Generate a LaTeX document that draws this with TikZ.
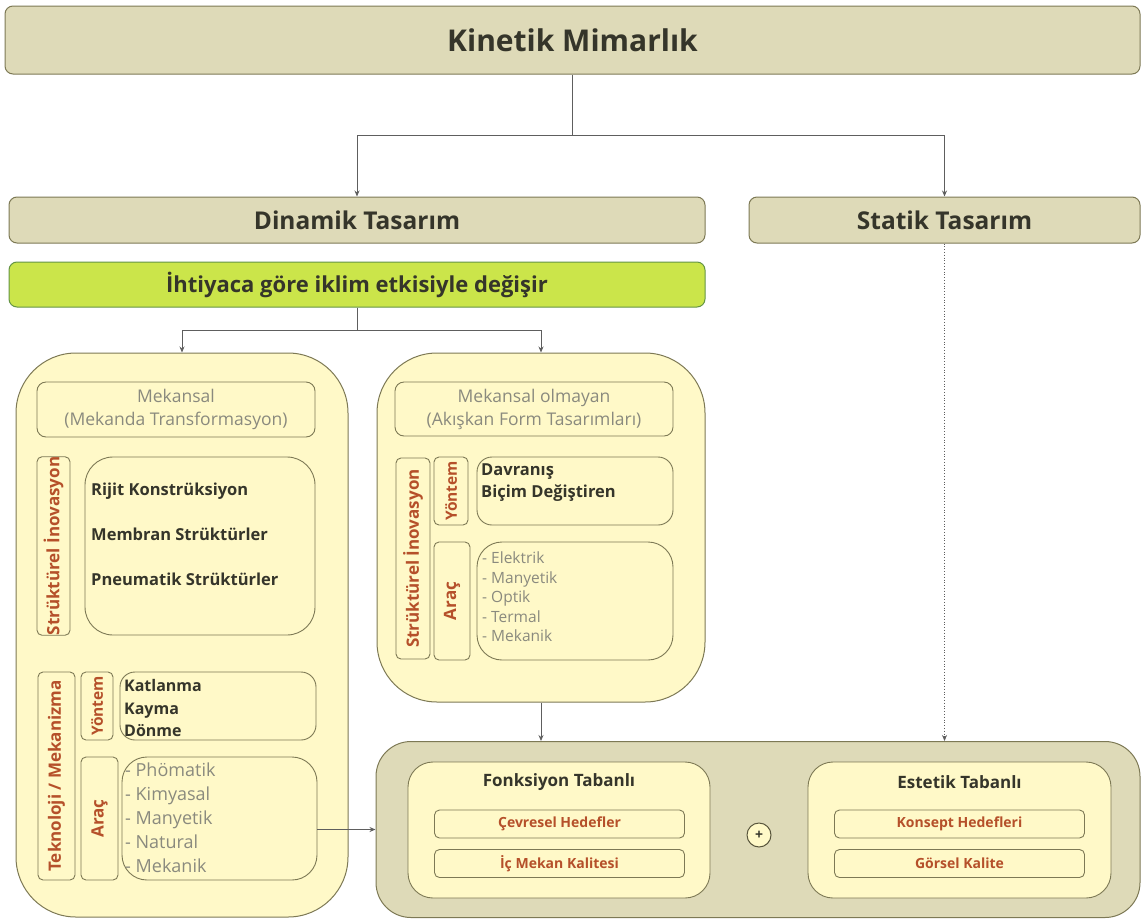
\documentclass[tikz,border=0pt]{standalone}
\usepackage{fontspec}
\setmainfont{Open Sans}
\usetikzlibrary{arrows.meta,positioning,calc}
\definecolor{khaki}{HTML}{DEDAB8}
\definecolor{cream}{HTML}{FFF9C8}
\definecolor{lime}{HTML}{CBE54A}
\definecolor{olive}{HTML}{7D7955}
\definecolor{rust}{HTML}{B5502A}
\definecolor{ink}{HTML}{35352A}
\definecolor{mute}{HTML}{8A8A7E}
\definecolor{wire}{HTML}{5E5E5E}
\newcommand{\fs}[1]{\fontsize{#1}{#1}\selectfont}

\begin{document}
\begin{tikzpicture}[x=1pt, y=-1pt,
    head/.style={rectangle, draw=olive, fill=khaki, line width=1pt, rounded corners=8pt, text=ink, font=\bfseries\fs{24.5}},
    group/.style={rectangle, draw=olive, fill=cream, line width=1pt, rounded corners=60pt},
    titlebox/.style={rectangle, draw=olive, fill=cream, line width=0.9pt, rounded corners=9pt, align=center, text=mute, font=\fs{17.5}, execute at begin node=\setlength{\baselineskip}{23pt}},
    sidebox/.style={rectangle, draw=olive, fill=cream, line width=0.9pt, rounded corners=5pt, rotate=90, inner sep=0pt, text=rust, font=\bfseries\fs{17}},
    itembox/.style={rectangle, draw=olive, fill=cream, line width=0.9pt, rounded corners=22pt},
    boldlist/.style={align=left, anchor=west, inner sep=0pt, text=ink, font=\bfseries\fs{16.5}},
    greylist/.style={align=left, anchor=west, inner sep=0pt, text=mute, font=\fs{18}},
    goalbox/.style={rectangle, draw=olive, fill=cream, line width=0.9pt, rounded corners=5pt, minimum width=250pt, minimum height=28pt, text=rust, font=\bfseries\fs{14}},
    arrow/.style={-{Stealth[length=6pt,width=5pt]}, draw=wire, line width=0.8pt}
]
\useasboundingbox (0,0) rectangle (1142,921);

% top levels
\node[head, minimum width=1135pt, minimum height=68pt, font=\bfseries\fs{30}] (kinetik) at (572.5,40) {Kinetik Mimarlık};
\node[head, minimum width=696pt, minimum height=46pt] (dinamik) at (357,220) {Dinamik Tasarım};
\node[head, minimum width=391pt, minimum height=46pt] (statik) at (944.5,220) {Statik Tasarım};
\node[head, fill=lime, draw=olive!80!green, minimum width=696pt, minimum height=45pt, font=\bfseries\fs{22}] (iklim) at (357,284.5) {İhtiyaca göre iklim etkisiyle değişir};

% mekansal
\node[group, minimum width=332pt, minimum height=564pt] (mekansal) at (182,635) {};
\node[titlebox, minimum width=278pt, minimum height=55pt] (mekhead) at (176,409.5) {Mekansal\\(Mekanda Transformasyon)};
\node[sidebox, minimum width=178pt, minimum height=33pt] (strL) at (53.5,546) {Strüktürel İnovasyon};
\node[itembox, minimum width=230pt, minimum height=178pt, rounded corners=28pt] (strLbox) at (200,546) {};
\node[boldlist, execute at begin node=\setlength{\baselineskip}{45pt}] (strLtxt) at (91,534) {Rijit Konstrüksiyon\\Membran Strüktürler\\Pneumatik Strüktürler};
\node[sidebox, minimum width=208pt, minimum height=37pt] (tekL) at (56.5,776) {Teknoloji / Mekanizma};
\node[sidebox, minimum width=68pt, minimum height=32pt, font=\bfseries\fs{15.5}] (yonL) at (97,706) {Yöntem};
\node[itembox, minimum width=196pt, minimum height=68pt, rounded corners=15pt] (yonLbox) at (218,706) {};
\node[boldlist, font=\bfseries\fs{16}, execute at begin node=\setlength{\baselineskip}{22.5pt}] (yonLtxt) at (124,708) {Katlanma\\Kayma\\Dönme};
\node[sidebox, minimum width=123pt, minimum height=37pt] (aracL) at (99.5,818.5) {Araç};
\node[itembox, minimum width=195pt, minimum height=123pt, rounded corners=25pt] (aracLbox) at (219.5,818.5) {};
\node[greylist, execute at begin node=\setlength{\baselineskip}{24pt}] (aracLtxt) at (125,818) {- Phömatik\\- Kimyasal\\- Manyetik\\- Natural\\- Mekanik};

% mekansal olmayan
\node[group, minimum width=328pt, minimum height=349pt] (nonmek) at (541,527.5) {};
\node[titlebox, minimum width=278pt, minimum height=54pt] (nmhead) at (534,409) {Mekansal olmayan\\(Akışkan Form Tasarımları)};
\node[sidebox, minimum width=201pt, minimum height=34pt] (strM) at (413,558.5) {Strüktürel İnovasyon};
\node[sidebox, minimum width=68pt, minimum height=34pt, font=\bfseries\fs{15.5}] (yonM) at (451,491) {Yöntem};
\node[itembox, minimum width=196pt, minimum height=68pt, rounded corners=15pt] (yonMbox) at (575,491) {};
\node[boldlist, execute at begin node=\setlength{\baselineskip}{22pt}] (yonMtxt) at (481,483) {Davranış\\Biçim Değiştiren};
\node[sidebox, minimum width=118pt, minimum height=36pt] (aracM) at (452,601) {Araç};
\node[itembox, minimum width=196pt, minimum height=118pt, rounded corners=25pt] (aracMbox) at (575,601) {};
\node[greylist, font=\fs{15.5}, execute at begin node=\setlength{\baselineskip}{19.5pt}] (aracMtxt) at (482,597) {- Elektrik\\- Manyetik\\- Optik\\- Termal\\- Mekanik};

% hedefler
\node[group, fill=khaki, minimum width=764pt, minimum height=176pt, rounded corners=35pt] (hedef) at (758,829.5) {};
\node[itembox, minimum width=302pt, minimum height=136pt, rounded corners=25pt] (fonk) at (559,830) {};
\node[text=ink, font=\bfseries\fs{17}] (fonktitle) at (559,782) {Fonksiyon Tabanlı};
\node[goalbox] (cevre) at (559.5,824) {Çevresel Hedefler};
\node[goalbox] (icmek) at (559.5,863.5) {İç Mekan Kalitesi};
\node[circle, draw=olive!70!black, fill=cream, line width=1pt, minimum size=24pt, inner sep=0pt, text=ink, font=\bfseries\fs{14}] (plus) at (759,835) {+};
\node[itembox, minimum width=303pt, minimum height=136pt, rounded corners=25pt] (estetik) at (959.5,830) {};
\node[text=ink, font=\bfseries\fs{17}] (estetiktitle) at (959.5,782) {Estetik Tabanlı};
\node[goalbox] (konsept) at (959.5,824) {Konsept Hedefleri};
\node[goalbox] (gorsel) at (959.5,863.5) {Görsel Kalite};

% connectors
\coordinate (split1) at (572.5,135);
\coordinate (split2) at (357,330);
\draw[arrow] (kinetik.south) -- (split1) -| (dinamik.north);
\draw[arrow] (split1) -| (statik.north);
\draw[arrow] (iklim.south) -- (split2) -| (mekansal.north);
\draw[arrow] (split2) -| (nonmek.north);
\draw[arrow, dotted] (statik.south) -- (statik.south |- hedef.north);
\draw[arrow] (nonmek.south) -- (nonmek.south |- hedef.north);
\draw[arrow] (aracLbox.east |- hedef.west) -- (hedef.west);

\end{tikzpicture}
\end{document}
